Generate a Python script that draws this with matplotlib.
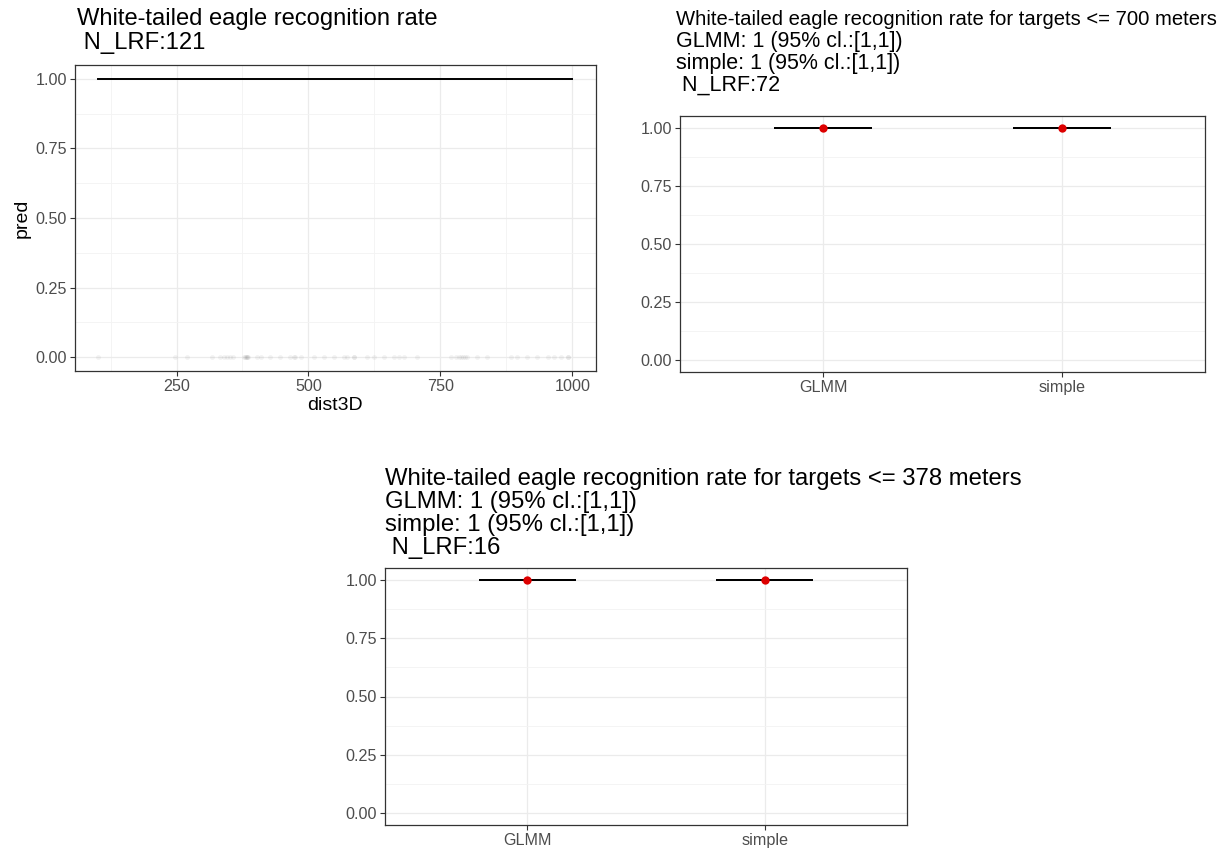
import matplotlib
matplotlib.use("Agg")
import matplotlib.pyplot as plt
from matplotlib.ticker import FixedLocator

plt.rcParams['font.family'] = ['Liberation Sans', 'DejaVu Sans']

# ---- data -------------------------------------------------------------
# model prediction over the observed distance range
pred_dist = [102, 1000]
pred_value = [1.0, 1.0]

# observed LRF distances (plotted as a faint rug at 0)
obs_dist = [102, 247, 270, 317, 333, 340, 346, 352, 358, 377, 379, 381, 383,
            384, 386, 403, 410, 428, 447, 466, 472, 474, 485, 510, 529, 548,
            567, 573, 586, 586, 611, 624, 643, 662, 671, 681, 706, 770, 779,
            785, 789, 792, 796, 801, 820, 839, 884, 896, 915, 934, 953, 965,
            978, 991, 991]
obs_value = [0.0] * len(obs_dist)

methods = ["GLMM", "simple"]

# targets <= 700 m
est_700 = [1.0, 1.0]
low_700 = [1.0, 1.0]
up_700 = [1.0, 1.0]
n_700 = 72

# targets <= 378 m
est_378 = [1.0, 1.0]
low_378 = [1.0, 1.0]
up_378 = [1.0, 1.0]
n_378 = 16

n_all = 121

y_ticks = [0.0, 0.25, 0.50, 0.75, 1.00]
y_minor = [0.125, 0.375, 0.625, 0.875]
x_ticks = [250, 500, 750, 1000]
x_minor = [125, 375, 625, 875]

# ---- styling helpers --------------------------------------------------
GRID_MAJOR = '#EBEBEB'
GRID_MINOR = '#F3F3F3'
FRAME = '#333333'
TICKLAB = '#4D4D4D'
TICK_SIZE = 11.6


def bw_theme(ax):
    ax.set_facecolor('white')
    for s in ax.spines.values():
        s.set_color(FRAME)
        s.set_linewidth(0.9)
    ax.tick_params(axis='both', which='major', direction='out', length=3.7,
                   width=0.8, color=FRAME, labelcolor=TICKLAB,
                   labelsize=TICK_SIZE, pad=2)
    ax.tick_params(axis='both', which='minor', length=0)
    ax.set_axisbelow(True)
    ax.grid(True, which='major', color=GRID_MAJOR, linewidth=0.9)
    ax.grid(True, which='minor', color=GRID_MINOR, linewidth=0.6)
    ax.set_yticks(y_ticks)
    ax.set_yticklabels([f"{v:.2f}" for v in y_ticks])
    ax.yaxis.set_minor_locator(FixedLocator(y_minor))
    ax.set_ylim(-0.05, 1.05)


def interval_panel(ax, est, low, up):
    pos = list(range(1, len(methods) + 1))
    half = 0.2
    for p, e, lo, hi in zip(pos, est, low, up):
        ax.plot([p - half, p + half], [lo, lo], color='black', lw=1.4, zorder=3)
        ax.plot([p - half, p + half], [hi, hi], color='black', lw=1.4, zorder=3)
        ax.plot([p, p], [lo, hi], color='black', lw=1.4, zorder=3)
    ax.plot(pos, est, 'o', color='#DD0000', markersize=6, zorder=4,
            markeredgewidth=0)
    bw_theme(ax)
    ax.set_xticks(pos)
    ax.set_xticklabels(methods)
    ax.set_xlim(0.4, len(methods) + 0.6)


fig = plt.figure(figsize=(12.21, 8.5), dpi=100)
W, H = 1221.0, 850.0


def add_axes_px(x0, x1, y0, y1):
    return fig.add_axes([x0 / W, 1 - y1 / H, (x1 - x0) / W, (y1 - y0) / H])


def title_lines(x, baselines, lines, sizes):
    for yb, txt, fs in zip(baselines, lines, sizes):
        fig.text(x / W, 1 - yb / H, txt, fontsize=fs, color='black',
                 ha='left', va='baseline')


# ---- panel 1: prediction vs distance ----------------------------------
ax1 = add_axes_px(74.7, 596, 65, 371)
ax1.plot(obs_dist, obs_value, 'o', color='#555555', alpha=0.07,
         markersize=3.5, markeredgewidth=0, zorder=2)
ax1.plot(pred_dist, pred_value, color='black', lw=1.4, zorder=3)
bw_theme(ax1)
ax1.set_xticks(x_ticks)
ax1.set_xticklabels([str(v) for v in x_ticks])
ax1.xaxis.set_minor_locator(FixedLocator(x_minor))
lo, hi = min(pred_dist), max(pred_dist)
pad = 0.05 * (hi - lo)
ax1.set_xlim(lo - pad, hi + pad)
ax1.set_xlabel('dist3D', fontsize=14, labelpad=2)
ax1.set_ylabel('pred', fontsize=14, labelpad=3)

title_lines(77, [25, 49],
            ["White-tailed eagle recognition rate", f" N_LRF:{n_all}"],
            [17.1, 17.1])

# ---- panel 2: targets <= 700 m ----------------------------------------
ax2 = add_axes_px(680, 1205, 116, 372)
interval_panel(ax2, est_700, low_700, up_700)
title_lines(676, [25, 47, 69, 91],
            ["White-tailed eagle recognition rate for targets <= 700 meters",
             f"GLMM: {est_700[0]:g} (95% cl.:[{low_700[0]:g},{up_700[0]:g}])",
             f"simple: {est_700[1]:g} (95% cl.:[{low_700[1]:g},{up_700[1]:g}])",
             f" N_LRF:{n_700}"],
            [14.6, 15.5, 15.5, 15.5])

# ---- panel 3: targets <= 378 m ----------------------------------------
ax3 = add_axes_px(385, 907, 568, 825)
interval_panel(ax3, est_378, low_378, up_378)
title_lines(385, [485, 508, 531, 554],
            ["White-tailed eagle recognition rate for targets <= 378 meters",
             f"GLMM: {est_378[0]:g} (95% cl.:[{low_378[0]:g},{up_378[0]:g}])",
             f"simple: {est_378[1]:g} (95% cl.:[{low_378[1]:g},{up_378[1]:g}])",
             f" N_LRF:{n_378}"],
            [17.2, 17.2, 17.2, 17.2])

fig.savefig('out.png', dpi=100, facecolor='white')
